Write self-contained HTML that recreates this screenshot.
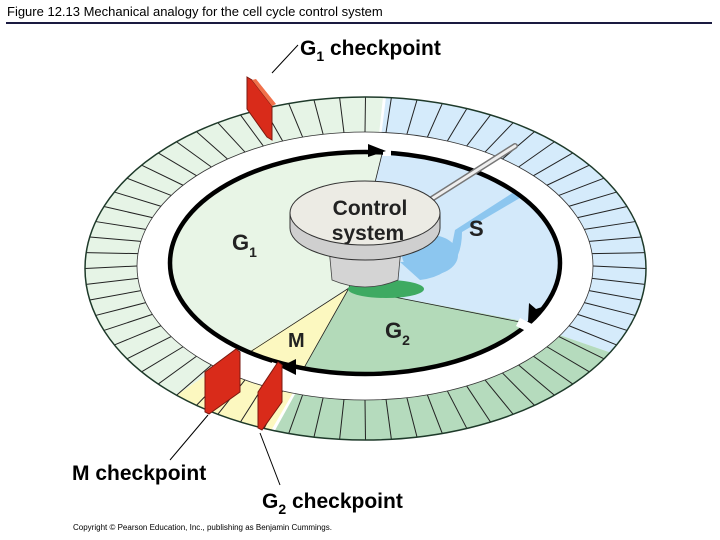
<!DOCTYPE html>
<html><head><meta charset="utf-8"><style>
html,body{margin:0;padding:0;background:#fff;width:720px;height:540px;overflow:hidden}
svg{display:block;position:absolute;left:0;top:0}
.b{font-family:"Liberation Sans",Arial,sans-serif;font-weight:bold}
</style></head><body>
<svg id="s" width="720" height="540" viewBox="0 0 720 540" xmlns="http://www.w3.org/2000/svg">
<defs>
<clipPath id="ring"><path clip-rule="evenodd" d="M85,268.5a280.5,171.5 0 1,0 561,0a280.5,171.5 0 1,0 -561,0Z M137,266a228,134 0 1,0 456,0a228,134 0 1,0 -456,0Z"/></clipPath>
<clipPath id="disk"><ellipse cx="365" cy="263" rx="195" ry="111"/></clipPath>
</defs>
<text x="7" y="16" font-family="Liberation Sans,Arial,sans-serif" font-size="13" fill="#000">Figure 12.13  Mechanical analogy for the cell cycle control system</text>
<rect x="6" y="22" width="706" height="2" fill="#1a1a40"/>

<g id="ringg" clip-path="url(#ring)"></g>
<ellipse cx="365.5" cy="268.5" rx="280.5" ry="171.5" fill="none" stroke="#1e3a2a" stroke-width="1.5"/>
<ellipse cx="365" cy="266" rx="228" ry="134" fill="#fff" stroke="#333" stroke-width="0.8"/>

<g clip-path="url(#disk)">
<polygon points="349,288 453,-130 -100,-130 -93,569" fill="#e8f5e6"/>
<polygon points="349,288 453,-130 900,-130 879,389" fill="#d3e9fa"/>
<polygon points="349,288 879,389 900,720 108,715" fill="#b3dab9"/>
<polygon points="349,288 108,715 -93,569" fill="#fcf8c0"/>
<path d="M349,288L383,150M349,288L525,323M349,288L300,375M349,288L250,352" stroke="#222" stroke-width="0.8"/>
<ellipse cx="386" cy="289" rx="38" ry="9" fill="#3eaa62"/>
<path d="M400,262 Q440,262 452,245 L455,230 L525,185 L530,192 L462,232 Q462,275 420,280Z" fill="#8cc6ef"/>
<ellipse cx="430" cy="255" rx="28" ry="20" fill="#8cc6ef"/>
</g>
<ellipse cx="365" cy="263" rx="195" ry="111" fill="none" stroke="#000" stroke-width="4.5"/>
<path d="M383,146 l8,0 0,10 -8,0Z M520,318 l12,6 -4,8 -12,-6Z M272,362 l12,4 -3,10 -12,-4Z" fill="#fff"/>
<polygon points="368,144 386,151 368,157" fill="#000"/>
<polygon points="528,322 529,303 536,309 545,306" fill="#000"/>
<polygon points="280,367 296,359 296,375" fill="#000"/>

<path d="M430,200 L515,146" stroke="#777" stroke-width="6" stroke-linecap="round"/>
<path d="M430,200 L515,146" stroke="#eee" stroke-width="3" stroke-linecap="round"/>
<path d="M329,248 L332,280 Q365,294 398,280 L401,248Z" fill="#d4d4d4" stroke="#444" stroke-width="0.8"/>
<path d="M290,213 L290,228 A75,32 0 0,0 440,228 L440,213Z" fill="#cfcfcf" stroke="#333" stroke-width="1"/>
<ellipse cx="365" cy="213" rx="75" ry="32" fill="#ecebe4" stroke="#333" stroke-width="1"/>
<text x="370" y="215" text-anchor="middle" class="b" font-size="21" fill="#222">Control</text>
<text x="368" y="240" text-anchor="middle" class="b" font-size="21" fill="#222">system</text>

<text x="232" y="250" class="b" font-size="22" fill="#222">G<tspan font-size="14" dy="7">1</tspan></text>
<text x="469" y="236" class="b" font-size="22" fill="#222">S</text>
<text x="288" y="347" class="b" font-size="20" fill="#222">M</text>
<text x="385" y="338" class="b" font-size="22" fill="#222">G<tspan font-size="14" dy="7">2</tspan></text>

<polygon points="247,77 252,80 272,106 272,140 267,137 247,109" fill="#d92b1a" stroke="#7a1a10" stroke-width="1"/>
<polygon points="252,80 256,79 276,104 272,106" fill="#f0704a"/>
<polygon points="205,372 236,349 240,352 240,392 209,414 205,412" fill="#d92b1a" stroke="#7a1a10" stroke-width="1"/>
<polygon points="258,392 278,362 282,365 282,402 262,430 258,428" fill="#d92b1a" stroke="#7a1a10" stroke-width="1"/>
<path d="M272,73 L298,45 M208,415 L170,460 M260,433 L280,485" stroke="#000" stroke-width="1"/>

<text x="300" y="55" class="b" font-size="21" fill="#000">G<tspan font-size="14" dy="6">1</tspan><tspan dy="-6"> checkpoint</tspan></text>
<text x="72" y="480" class="b" font-size="21" fill="#000">M checkpoint</text>
<text x="262" y="508" class="b" font-size="21" fill="#000">G<tspan font-size="14" dy="6">2</tspan><tspan dy="-6"> checkpoint</tspan></text>
<text x="73" y="530" font-family="Liberation Sans,Arial,sans-serif" font-size="8" fill="#000">Copyright © Pearson Education, Inc., publishing as Benjamin Cummings.</text>
</svg>
<script>
(function(){
var g=document.getElementById('ringg'),ns='http://www.w3.org/2000/svg';
var cx=365,cy=268;
function wedge(a1,a2,col){var p=document.createElementNS(ns,'polygon');var pts=[cx+','+cy];
for(var a=a1;a<=a2+0.01;a+=2){var r=a*Math.PI/180;pts.push((cx+800*Math.cos(r))+','+(cy+800*Math.sin(r)));}
p.setAttribute('points',pts.join(' '));p.setAttribute('fill',col);g.appendChild(p);}
wedge(-83,19,'#d5ebfb');wedge(19,120,'#b5dbbd');wedge(120,146,'#fcf8c0');wedge(146,277,'#e6f4e6');
for(var i=0;i<68;i++){var t=i/68*2*Math.PI;
var x1=365+228*Math.cos(t),y1=266+134*Math.sin(t),x2=365.5+280.5*Math.cos(t),y2=268.5+171.5*Math.sin(t);
var l=document.createElementNS(ns,'line');l.setAttribute('x1',x1);l.setAttribute('y1',y1);l.setAttribute('x2',x2);l.setAttribute('y2',y2);
l.setAttribute('stroke','#222');l.setAttribute('stroke-width','1');g.appendChild(l);}
})();
</script>
</body></html>
